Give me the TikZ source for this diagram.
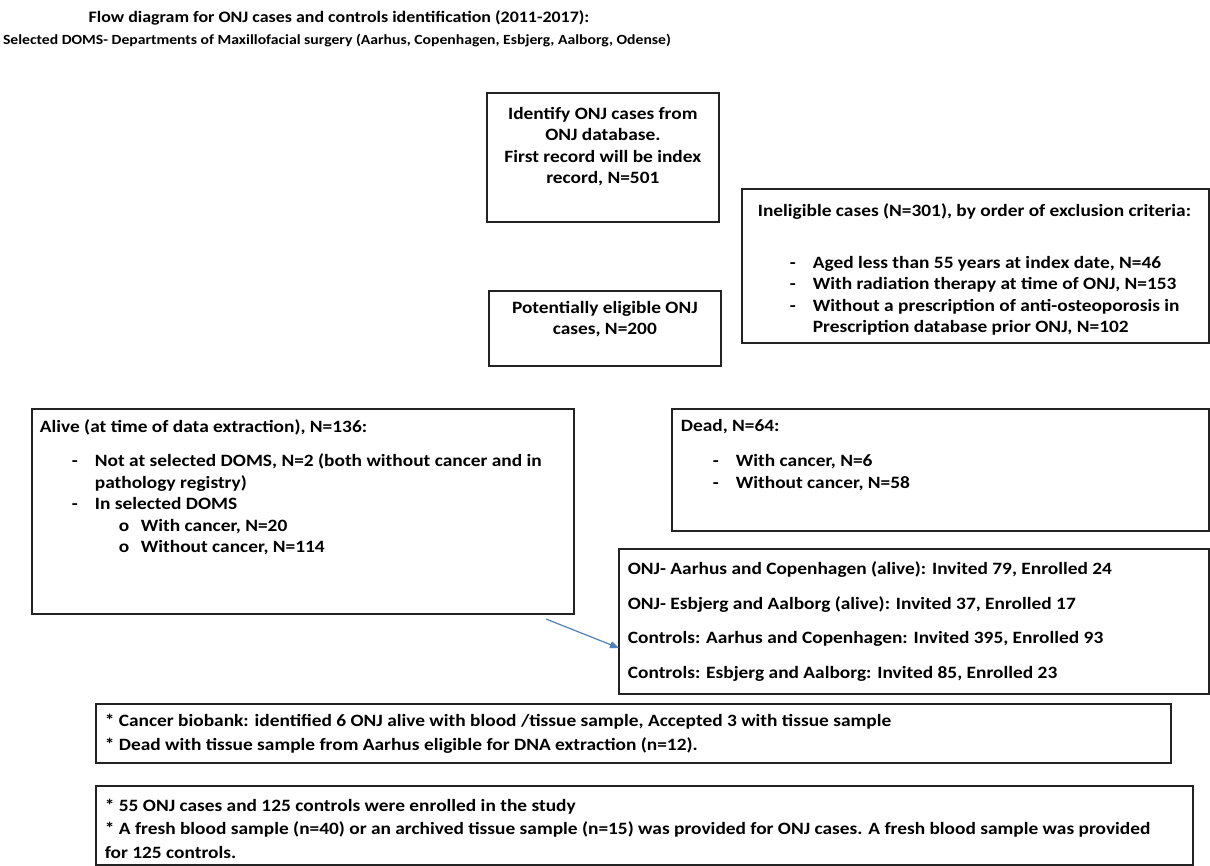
\documentclass[tikz,border=0pt]{standalone}
\usepackage{fontspec}
\setmainfont{Carlito}[FakeStretch=1.12]
\usetikzlibrary{arrows.meta, positioning}
\definecolor{arrowblue}{RGB}{79,129,189}
\definecolor{boxline}{RGB}{35,35,35}

% rows of the lists inside the boxes
\newcommand{\dashrow}[1]{\mbox{\hspace*{32pt}\makebox[23pt][l]{-}#1}}
\newcommand{\moreline}[1]{\mbox{\hspace*{55pt}#1}}
\newcommand{\subrow}[1]{\mbox{\hspace*{79pt}\makebox[22pt][l]{o}#1}}
\newcommand{\boxtext}[4]{\parbox[t][#2][t]{#1}{\vspace*{#3}#4}}

\begin{document}
\begin{tikzpicture}[x=1pt, y=-1pt,
    box/.style={draw=boxline, line width=1.7pt, anchor=north west, inner ysep=0pt, inner xsep=9pt},
    flowarrow/.style={-{Triangle[length=9pt, width=7pt]}, draw=arrowblue, fill=arrowblue, line width=1.2pt},
    font=\bfseries\fontsize{17.3}{21.5}\selectfont]
    \useasboundingbox (0,0) rectangle (1210,866);

    \node[font=\bfseries\fontsize{16}{20}\selectfont] (title) at (339,18) {Flow diagram for ONJ cases and controls identification (2011-2017):};
    \node[font=\bfseries\fontsize{14}{18}\selectfont] (subtitle) at (337,40) {Selected DOMS- Departments of Maxillofacial surgery (Aarhus, Copenhagen, Esbjerg, Aalborg, Odense)};

    \node[box, inner xsep=0pt] (index) at (486,92) {\boxtext{232pt}{129pt}{14pt}{\centering
        Identify ONJ cases from\\ ONJ database.\\ First record will be index\\ record, N=501}};

    \node[box, inner xsep=16pt] (inelig) at (741,188) {\boxtext{435pt}{154pt}{15pt}{\raggedright
        Ineligible cases (N=301), by order of exclusion criteria:\\[30pt]
        \dashrow{Aged less than 55 years at index date, N=46}\\
        \dashrow{With radiation therapy at time of ONJ, N=153}\\
        \dashrow{Without a prescription of anti-osteoporosis in}\\
        \moreline{Prescription database prior ONJ, N=102}}};

    \node[box, inner xsep=0pt] (eligible) at (488,290) {\boxtext{232pt}{75pt}{10pt}{\centering
        Potentially eligible ONJ\\ cases, N=200}};

    \node[box, inner xsep=8pt] (alive) at (31,408) {\boxtext{526pt}{205pt}{11pt}{\raggedright
        Alive (at time of data extraction), N=136:\\[12.5pt]
        \dashrow{Not at selected DOMS, N=2 (both without cancer and in}\\
        \moreline{pathology registry)}\\
        \dashrow{In selected DOMS}\\
        \subrow{With cancer, N=20}\\
        \subrow{Without cancer, N=114}}};

    \node[box] (dead) at (671,408) {\boxtext{519pt}{122pt}{11pt}{\raggedright
        Dead, N=64:\\[13.5pt]
        \dashrow{With cancer, N=6}\\
        \dashrow{Without cancer, N=58}}};

    \node[box] (enroll) at (618,548) {\boxtext{572pt}{145pt}{13pt}{\raggedright
        ONJ- Aarhus and Copenhagen (alive): Invited 79, Enrolled 24\\[13pt]
        ONJ- Esbjerg and Aalborg (alive): Invited 37, Enrolled 17\\[13pt]
        Controls: Aarhus and Copenhagen: Invited 395, Enrolled 93\\[13pt]
        Controls: Esbjerg and Aalborg: Invited 85, Enrolled 23}};

    \node[box] (biobank) at (95,703) {\boxtext{1057pt}{59pt}{10pt}{\raggedright
        * Cancer biobank: identified 6 ONJ alive with blood /tissue sample, Accepted 3 with tissue sample\\[2.5pt]
        * Dead with tissue sample from Aarhus eligible for DNA extraction (n=12).}};

    \node[box] (summary) at (95,785) {\boxtext{1079pt}{79pt}{13pt}{\raggedright
        * 55 ONJ cases and 125 controls were enrolled in the study\\[2pt]
        * A fresh blood sample (n=40) or an archived tissue sample (n=15) was provided for ONJ cases. A fresh blood sample was provided\\[2pt]
        for 125 controls.}};

    \coordinate (arrowstart) at (546,619);
    \coordinate (arrowtip) at (619,648);
    \draw[flowarrow] (arrowstart) -- (arrowtip);
\end{tikzpicture}
\end{document}
